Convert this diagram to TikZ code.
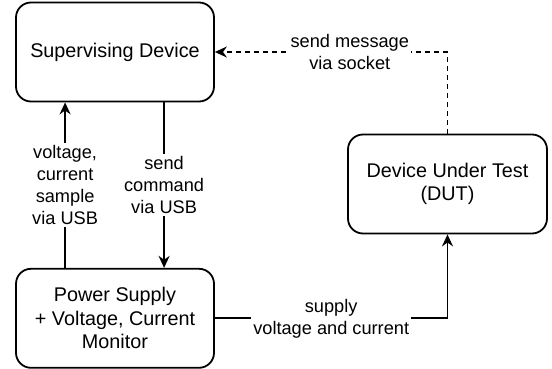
\documentclass[tikz,border=0pt]{standalone}
\usepackage{fontspec}
\setmainfont{Liberation Sans}
\usepackage{tikz}
\usetikzlibrary{positioning, arrows.meta}
\tikzset{
  device/.style={rectangle, rounded corners=15pt, minimum width=198pt, minimum height=99pt, text centered, align=center, draw=black, line width=1.8pt, font=\fontsize{19.8}{23.5}\selectfont},
  edgelabel/.style={fill=white, inner sep=2pt, align=center, font=\fontsize{18.2}{22}\selectfont},
  arrow/.style={line width=1.8pt,-{Stealth[length=12pt,width=11pt]}},
  dasharrow/.style={arrow, dash pattern=on 5pt off 4pt}
}
\begin{document}
\begin{tikzpicture}[x=1pt, y=-1pt]
    \useasboundingbox (0,0) rectangle (552,369);
    \node (sup) [device] at (115,52) {Supervising Device};
    \node (psu) [device, below=165.5pt of sup] {Power Supply\\+ Voltage, Current\\Monitor};
    \node (dut) [device, minimum width=199pt] at (447.5,184) {Device Under Test\\(DUT)};

    \draw [arrow] ([xshift=50pt]psu.north west) -- node[edgelabel] {voltage,\\current\\sample\\via USB} ([xshift=50pt]sup.south west);
    \draw [arrow] ([xshift=149pt]sup.south west) -- node[edgelabel] {send\\command\\via USB} ([xshift=149pt]psu.north west);
    \draw [dasharrow] (dut.north) |- node[edgelabel, pos=0.71] {send message\\via socket} (sup.east);
    \draw [arrow] (psu.east) -| node[edgelabel, pos=0.25] {supply\\voltage and current} (dut.south);
\end{tikzpicture}
\end{document}
